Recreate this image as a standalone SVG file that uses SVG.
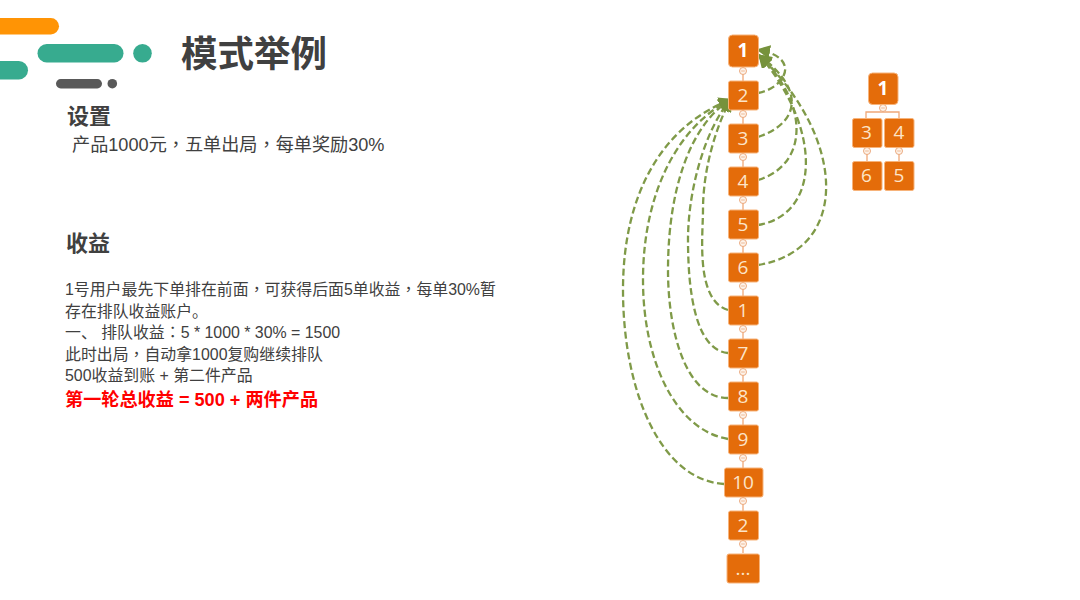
<svg xmlns="http://www.w3.org/2000/svg" width="1080" height="600" viewBox="0 0 1080 600">
<defs>
<style>
text{font-family:"Liberation Sans","Noto Sans CJK SC",sans-serif}
.p{font-family:"Noto Sans CJK TC",sans-serif}
.t{fill:#404040}
.h{font-size:22px;font-weight:700;fill:#404040}
.b{font-size:15.900px;fill:#404040}
.n rect{fill:#E46C0A;stroke:#F7B37A;stroke-width:1}
.n text{font-family:"Open Sans",sans-serif;font-size:19px;fill:#FCE4C8;text-anchor:middle}
.n .top{font-weight:700;fill:#fff}
.l{fill:none;stroke:#F0A878;stroke-width:1.300}
.o{fill:#FDF3EA;stroke:#EBAA80;stroke-width:1}
.m{stroke:#EBAA80;stroke-width:.8}
.a{fill:none;stroke:#7F9A48;stroke-width:2.300;stroke-dasharray:7 3.500}
</style>
<marker id="ah" viewBox="0 0 10 10" refX="8" refY="5" markerWidth="6" markerHeight="6" orient="auto-start-reverse" markerUnits="strokeWidth"><path d="M0 0L10 5L0 10Z" fill="#76923C"/></marker>
<g id="c"><circle class="o" r="3.500"/><path class="m" d="M-1.800 0H1.800"/></g>
</defs>
<rect width="1080" height="600" fill="#fff"/>
<g id="deco">
<rect x="-20" y="18" width="79" height="16.500" rx="8.200" fill="#FF9405"/>
<rect x="37.500" y="44" width="86" height="18.500" rx="9.200" fill="#37AB8F"/>
<circle cx="142.500" cy="53.300" r="9.300" fill="#37AB8F"/>
<rect x="-20" y="61" width="48" height="18.500" rx="9.200" fill="#37AB8F"/>
<rect x="56" y="79" width="46" height="9.500" rx="4.700" fill="#595959"/>
<circle cx="112.300" cy="83.700" r="4.800" fill="#595959"/>
</g>
<g id="texts">
<text class="t" x="181" y="67" font-size="36.500" font-weight="700">模式举例</text>
<text class="h" x="67" y="124">设置</text>
<text class="t" x="72" y="151" font-size="18.150">产品1000元<tspan class="p">，</tspan>五单出局<tspan class="p">，</tspan>每单奖励30%</text>
<text class="h" x="66" y="251">收益</text>
<text class="b" x="65" y="295">1号用户最先下单排在前面<tspan class="p">，</tspan>可获得后面5单收益<tspan class="p">，</tspan>每单30%暂</text>
<text class="b" x="65" y="317">存在排队收益账户。</text>
<text class="b" x="65" y="338" xml:space="preserve">一、 排队收益<tspan class="p">：</tspan>5 * 1000 * 30% = 1500</text>
<text class="b" x="65" y="360">此时出局<tspan class="p">，</tspan>自动拿1000复购继续排队</text>
<text class="b" x="65" y="381">500收益到账 + 第二件产品</text>
<text x="65" y="406" font-size="18.150" font-weight="700" fill="#FF0000">第一轮总收益 = 500 + 两件产品</text>
</g>
<g id="connectors">
<path class="l" d="M743 66V553M883 104V112M866 118V112H899V118M867 147V162M899 147V162"/>
<use href="#c" x="743" y="71"/><use href="#c" x="743" y="114"/><use href="#c" x="743" y="157"/><use href="#c" x="743" y="200"/><use href="#c" x="743" y="243"/><use href="#c" x="743" y="286"/><use href="#c" x="743" y="329"/><use href="#c" x="743" y="372"/><use href="#c" x="743" y="415"/><use href="#c" x="743" y="458"/><use href="#c" x="743" y="501"/><use href="#c" x="743" y="544"/>
<use href="#c" x="883" y="108"/><use href="#c" x="867" y="151"/><use href="#c" x="899" y="151"/>
<path class="a" marker-end="url(#ah)" d="M758 93C785 88 802 58 759 50"/>
<path class="a" marker-end="url(#ah)" d="M758 137C797 124 808 92 760 56"/>
<path class="a" marker-end="url(#ah)" d="M758 180C808 165 810 105 760 56"/>
<path class="a" marker-end="url(#ah)" d="M758 225C820 215 823 130 760 56"/>
<path class="a" marker-end="url(#ah)" d="M758 265C850 250 847 140 760 56"/>
<path class="a" marker-end="url(#ah)" d="M728 310C695 300 703 235 703 210C703 170 715 130 730 100"/>
<path class="a" marker-end="url(#ah)" d="M728 353C695 350 688 290 688 240C688 190 705 130 730 100"/>
<path class="a" marker-end="url(#ah)" d="M728 398C685 398 668 330 668 270C668 190 690 125 730 100"/>
<path class="a" marker-end="url(#ah)" d="M728 439C675 430 643 360 643 280C643 190 680 125 730 100"/>
<path class="a" marker-end="url(#ah)" d="M724 484C660 480 623 390 623 290C623 190 665 125 730 100"/>
</g>
<g id="n1" class="n"><rect x="728.500" y="35" width="30" height="32" rx="4"/><text class="top" x="743" y="57">1</text></g>
<g id="n2" class="n"><rect x="728.500" y="81" width="30" height="29" rx="2"/><text x="743" y="102">2</text></g>
<g id="n3" class="n"><rect x="728.500" y="124" width="30" height="29" rx="2"/><text x="743" y="145">3</text></g>
<g id="n4" class="n"><rect x="728.500" y="167" width="30" height="29" rx="2"/><text x="743" y="188">4</text></g>
<g id="n5" class="n"><rect x="728.500" y="210" width="30" height="29" rx="2"/><text x="743" y="231">5</text></g>
<g id="n6" class="n"><rect x="728.500" y="253" width="30" height="29" rx="2"/><text x="743" y="274">6</text></g>
<g id="n1b" class="n"><rect x="728.500" y="296" width="30" height="29" rx="2"/><text x="743" y="317">1</text></g>
<g id="n7" class="n"><rect x="728.500" y="339" width="30" height="29" rx="2"/><text x="743" y="360">7</text></g>
<g id="n8" class="n"><rect x="728.500" y="382" width="30" height="29" rx="2"/><text x="743" y="403">8</text></g>
<g id="n9" class="n"><rect x="728.500" y="425" width="30" height="29" rx="2"/><text x="743" y="446">9</text></g>
<g id="n10" class="n"><rect x="724.500" y="468" width="38.500" height="29" rx="2"/><text x="743" y="489">10</text></g>
<g id="n2b" class="n"><rect x="728.500" y="511" width="30" height="29" rx="2"/><text x="743" y="532">2</text></g>
<g id="nmore" class="n"><rect x="727" y="554" width="32.500" height="29" rx="2"/><text x="743" y="575">...</text></g>
<g id="t1" class="n"><rect x="868.500" y="73" width="29.500" height="31.500" rx="4"/><text class="top" x="883" y="95">1</text></g>
<g id="t3" class="n"><rect x="852.500" y="118.500" width="29.500" height="29" rx="2"/><text x="866.500" y="139">3</text></g>
<g id="t4" class="n"><rect x="884.500" y="118.500" width="29.500" height="29" rx="2"/><text x="899" y="139">4</text></g>
<g id="t6" class="n"><rect x="852.500" y="161.500" width="29.500" height="29" rx="2"/><text x="866.500" y="182">6</text></g>
<g id="t5" class="n"><rect x="884.500" y="161.500" width="29.500" height="29" rx="2"/><text x="899" y="182">5</text></g>
</svg>
